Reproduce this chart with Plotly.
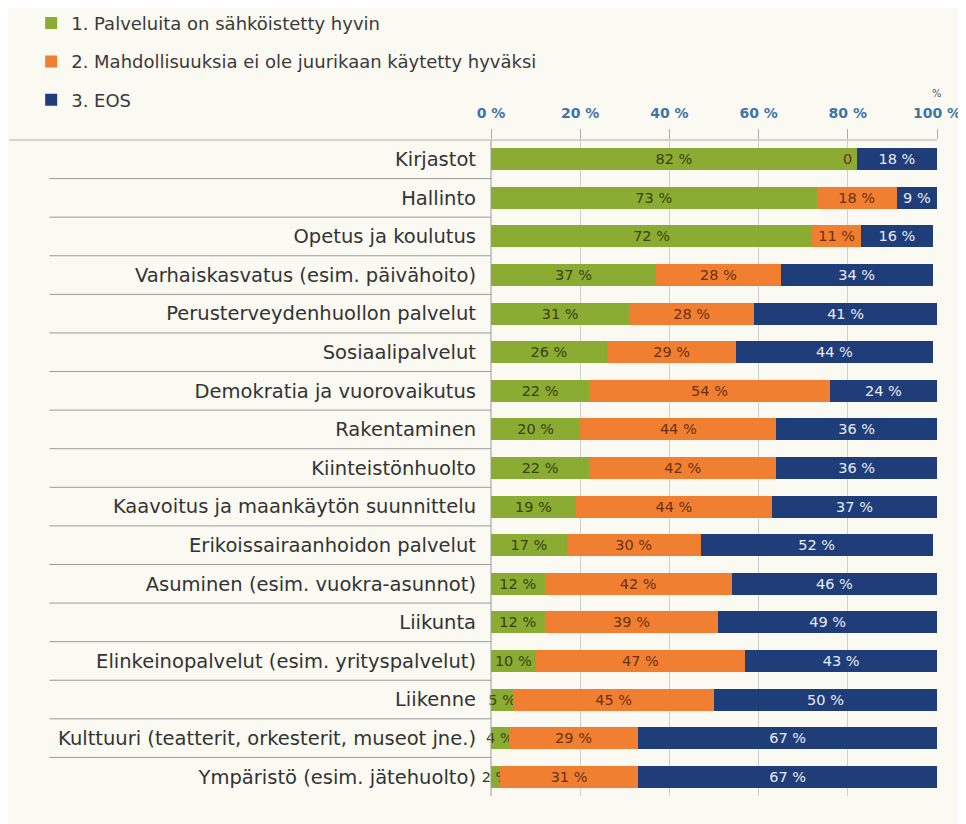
import plotly.graph_objects as go

categories = [
    "Kirjastot", "Hallinto", "Opetus ja koulutus", "Varhaiskasvatus (esim. päivähoito)",
    "Perusterveydenhuollon palvelut", "Sosiaalipalvelut", "Demokratia ja vuorovaikutus",
    "Rakentaminen", "Kiinteistönhuolto", "Kaavoitus ja maankäytön suunnittelu",
    "Erikoissairaanhoidon palvelut", "Asuminen (esim. vuokra-asunnot)", "Liikunta",
    "Elinkeinopalvelut (esim. yrityspalvelut)", "Liikenne",
    "Kulttuuri (teatterit, orkesterit, museot jne.)", "Ympäristö (esim. jätehuolto)",
]
good = [82, 73, 72, 37, 31, 26, 22, 20, 22, 19, 17, 12, 12, 10, 5, 4, 2]
unused = [0, 18, 11, 28, 28, 29, 54, 44, 42, 44, 30, 42, 39, 47, 45, 29, 31]
eos = [18, 9, 16, 34, 41, 44, 24, 36, 36, 37, 52, 46, 49, 43, 50, 67, 67]
series_names = [
    "1. Palveluita on sähköistetty hyvin",
    "2. Mahdollisuuksia ei ole juurikaan käytetty hyväksi",
    "3. EOS",
]
tick_vals = [0, 20, 40, 60, 80, 100]
tick_text = ["0 %", "20 %", "40 %", "60 %", "80 %", "100 %"]

colors = ["#8aac32", "#f07f32", "#1f3d78"]
text_colors = ["#3a4010", "#6a3010", "#e8ecf4"]
FONT = "DejaVu Sans"

fig = go.Figure()
for i, (name, vals) in enumerate(zip(series_names, [good, unused, eos])):
    fig.add_trace(go.Bar(
        y=categories, x=vals, orientation="h", name=name,
        marker=dict(color=colors[i], line=dict(width=0)),
        text=[f"{v} %" if v else "" for v in vals],
        textposition="inside", insidetextanchor="middle", textangle=0,
        constraintext="none", cliponaxis=False,
        textfont=dict(family=FONT, size=14.5, color=text_colors[i]),
        legendgroup=f"g{i}", width=0.57,
        hoverinfo="skip",
    ))

# the zero label in the first row
for c, g, u in zip(categories, good, unused):
    if u == 0:
        fig.add_annotation(x=g, y=c, xref="x", yref="y", text="0", showarrow=False,
                           xanchor="right", xshift=-3,
                           font=dict(family=FONT, size=14.5, color=text_colors[1]))

shapes = []
n = len(categories)
for k in range(n - 1):
    shapes.append(dict(type="line", xref="paper", yref="y", x0=-0.99, x1=0,
                       y0=k + 0.5, y1=k + 0.5, line=dict(color="#9a9a9a", width=1)))
shapes.append(dict(type="line", xref="paper", yref="paper", x0=-1.08, x1=1.0,
                   y0=1, y1=1, line=dict(color="#b0b0b0", width=1)))
shapes.append(dict(type="line", xref="paper", yref="paper", x0=0, x1=0,
                   y0=0, y1=1, line=dict(color="#9a9a9a", width=1)))
fig.update_layout(shapes=shapes)

fig.add_annotation(x=1.016, y=1.082, xref="paper", yref="paper", text="%",
                   showarrow=False, font=dict(family=FONT, size=10, color="#555"))

fig.update_layout(
    width=966, height=824,
    margin=dict(l=483, r=37, t=132, b=36, autoexpand=False),
    barmode="stack", bargap=0.43,
    paper_bgcolor="#faf9f2", plot_bgcolor="#faf9f2",
    font=dict(family=FONT, color="#333"),
    legend=dict(x=-1.031, y=1.206, xanchor="left", yanchor="top", yref="paper",
                traceorder="grouped", tracegroupgap=12,
                font=dict(family=FONT, size=18, color="#3a3a3a"),
                bgcolor="rgba(0,0,0,0)", itemwidth=30),
    xaxis=dict(range=[0, 100], side="top", tickvals=tick_vals, ticktext=tick_text,
               tickfont=dict(family=FONT, size=14, color="#3f74a8", weight="bold"),
               showgrid=True, gridcolor="#cfcfcf", gridwidth=1, zeroline=False,
               ticks="outside", ticklen=10, tickcolor="#aaa", ticklabelstandoff=5,
               fixedrange=True),
    yaxis=dict(autorange="reversed", tickfont=dict(family=FONT, size=19.5, color="#333"),
               ticklabelstandoff=14, showgrid=False, fixedrange=True),
    showlegend=True,
)
fig.write_html("out.html")
